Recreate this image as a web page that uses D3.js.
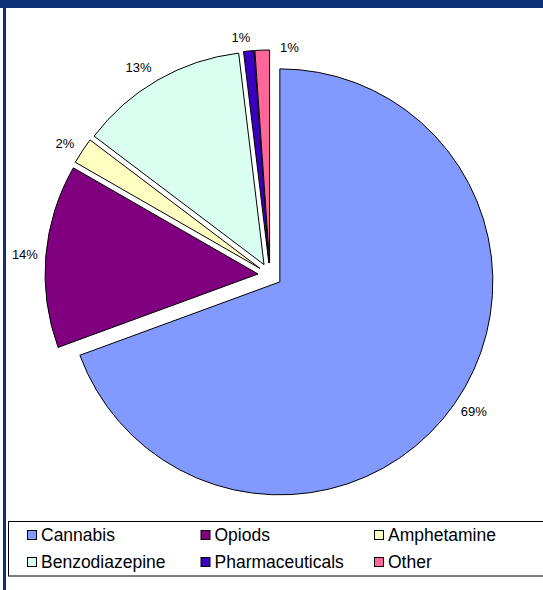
<!DOCTYPE html>
<html>
<head>
<meta charset="utf-8">
<script src="https://cdn.jsdelivr.net/npm/d3@7"></script>
<style>
  html, body { margin: 0; padding: 0; background: #fff; }
  svg { display: block; }
</style>
</head>
<body>
<script>
// Share of drug types (percent)
const categories = ["Cannabis", "Opiods", "Amphetamine", "Benzodiazepine", "Pharmaceuticals", "Other"];
const shares = [69.4, 13.9, 2.0, 12.8, 0.8, 1.1];
const colors = ["#8299FF", "#800080", "#FFFFC2", "#DAFFF0", "#3A00C2", "#FF6699"];

const W = 543, H = 590;
const svg = d3.select("body").append("svg").attr("width", W).attr("height", H);

// frame: navy bar across the top and down the left side
svg.append("rect").attr("x", 0).attr("y", 0).attr("width", W).attr("height", 8).attr("fill", "#0B3279");
svg.append("rect").attr("x", 3).attr("y", 0).attr("width", 3).attr("height", H).attr("fill", "#0B3279");

const cx = 270, cy = 275, r = 213, explode = 12, labelR = 246;
const font = "'Liberation Sans', Arial, sans-serif";

const data = categories.map((c, i) => ({ name: c, value: shares[i], color: colors[i] }));
const pie = d3.pie().value(d => d.value).sort(null).startAngle(0).endAngle(2 * Math.PI);
const arcs = pie(data);
const arc = d3.arc().innerRadius(0).outerRadius(r);
const total = d3.sum(shares);
const pct = v => Math.round(v / total * 100) + "%";

const g = svg.append("g").attr("transform", `translate(${cx},${cy})`);

g.selectAll("path.slice")
  .data(arcs)
  .join("path")
  .attr("class", "slice")
  .attr("d", arc)
  .attr("fill", d => d.data.color)
  .attr("stroke", "#000")
  .attr("stroke-width", 1)
  .attr("stroke-linejoin", "miter")
  .attr("transform", d => {
    const m = (d.startAngle + d.endAngle) / 2;
    return `translate(${explode * Math.sin(m)},${-explode * Math.cos(m)})`;
  });

// small shifts that keep crowded labels apart
const labelNudge = { "Benzodiazepine": [-9, 6], "Amphetamine": [0, 4], "Pharmaceuticals": [-6, 7], "Other": [28, 18], "Cannabis": [2, -4] };

g.selectAll("text.pct")
  .data(arcs)
  .join("text")
  .attr("class", "pct")
  .attr("x", d => {
    const m = (d.startAngle + d.endAngle) / 2;
    return labelR * Math.sin(m) + (labelNudge[d.data.name] || [0, 0])[0];
  })
  .attr("y", d => {
    const m = (d.startAngle + d.endAngle) / 2;
    return -labelR * Math.cos(m) + (labelNudge[d.data.name] || [0, 0])[1];
  })
  .attr("text-anchor", "middle")
  .attr("dominant-baseline", "central")
  .attr("font-family", font)
  .attr("font-size", "13px")
  .attr("fill", "#000")
  .text(d => pct(d.data.value));

// legend
const lg = svg.append("g");
lg.append("rect").attr("x", 8.5).attr("y", 521.5).attr("width", W).attr("height", 54.5)
  .attr("fill", "#fff").attr("stroke", "#000").attr("stroke-width", 1);

const colX = [27, 200.5, 374];
const rowY = [535, 562];
const items = lg.selectAll("g.item")
  .data(data)
  .join("g")
  .attr("class", "item")
  .attr("transform", (d, i) => `translate(${colX[i % 3]},${rowY[Math.floor(i / 3)]})`);

items.append("rect")
  .attr("x", 0.5).attr("y", -4.5).attr("width", 9).attr("height", 9)
  .attr("fill", d => d.color).attr("stroke", "#000").attr("stroke-width", 1);

items.append("text")
  .attr("x", 14)
  .attr("y", 0)
  .attr("dominant-baseline", "central")
  .attr("font-family", font)
  .attr("font-size", "17.5px")
  .attr("fill", "#000")
  .text(d => d.name);
</script>
</body>
</html>
